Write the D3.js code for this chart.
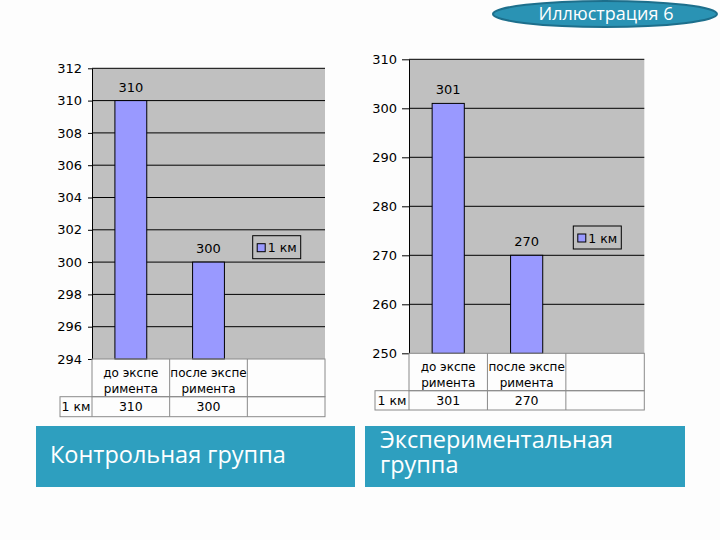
<!DOCTYPE html>
<html><head><meta charset="utf-8">
<script src="https://cdn.jsdelivr.net/npm/d3@7/dist/d3.min.js"></script>
<style>body{margin:0;background:#fdfdfd}svg{display:block}</style>
</head><body>
<svg id="c" width="720" height="540"></svg>
<script>
// ---- data ----
const categories = ["до экспе|римента", "после экспе|римента"];
const seriesName = "1 км";
const controlValues = [310, 300];
const experimentValues = [301, 270];
const controlTicks = [294, 296, 298, 300, 302, 304, 306, 308, 310, 312];
const experimentTicks = [250, 260, 270, 280, 290, 300, 310];
const panelTitles = ["Контрольная группа", "Экспериментальная|группа"];
const slideTitle = "Иллюстрация 6";

const svg = d3.select("#c");
const FONT = "DejaVu Sans, sans-serif";

// title oval
svg.append("ellipse").attr("cx", 605).attr("cy", 14).attr("rx", 112).attr("ry", 13)
  .attr("fill", "#2a93b4").attr("stroke", "#1d6f8c").attr("stroke-width", 2);
svg.append("text").attr("x", 606).attr("y", 19.5).attr("text-anchor", "middle")
  .attr("font-family", "Open Sans, sans-serif").attr("font-size", 18).attr("fill", "#fff")
  .text(slideTitle);

function drawChart(cfg) {
  const g = svg.append("g");
  const slots = [...categories, ""];
  const x = d3.scaleBand().domain(slots).range([cfg.x0, cfg.x1]);
  const y = d3.scaleLinear().domain(d3.extent(cfg.ticks)).range([cfg.yB, cfg.yT]);
  // plot background
  g.append("rect").attr("x", cfg.x0).attr("y", cfg.yT).attr("width", cfg.x1 - cfg.x0)
    .attr("height", cfg.yB - cfg.yT).attr("fill", "#c0c0c0");
  // gridlines
  g.selectAll(".grid").data(cfg.ticks.slice(1)).join("line")
    .attr("x1", cfg.x0).attr("x2", cfg.x1).attr("y1", d => y(d)).attr("y2", d => y(d))
    .attr("stroke", "#000").attr("stroke-width", 1);
  // bars
  const bw = x.bandwidth() * 0.41;
  g.selectAll(".bar").data(cfg.values).join("rect")
    .attr("x", (d, i) => x(slots[i]) + x.bandwidth() / 2 - bw / 2)
    .attr("y", d => y(d)).attr("width", bw).attr("height", d => cfg.yB - y(d))
    .attr("fill", "#9999ff").attr("stroke", "#000").attr("stroke-width", 1);
  // value labels
  g.selectAll(".vl").data(cfg.values).join("text")
    .attr("x", (d, i) => x(slots[i]) + x.bandwidth() / 2)
    .attr("y", d => y(d) - 9).attr("text-anchor", "middle")
    .attr("font-family", FONT).attr("font-size", 13).attr("fill", "#000").text(d => d);
  // y axis
  const ax = g.append("g").attr("transform", `translate(${cfg.x0},0)`)
    .call(d3.axisLeft(y).tickValues(cfg.ticks).tickSize(cfg.tick).tickPadding(cfg.pad).tickSizeOuter(0));
  ax.select(".domain").attr("stroke", "#000");
  ax.selectAll("text").attr("font-family", FONT).attr("font-size", 13).attr("fill", "#000");
  // data table
  const tg = g.append("g").attr("stroke", "#8a8a8a").attr("stroke-width", 1).attr("fill", "none");
  tg.append("rect").attr("x", cfg.x0).attr("y", cfg.yB).attr("width", cfg.x1 - cfg.x0).attr("height", cfg.r1 - cfg.yB);
  tg.append("rect").attr("x", cfg.tL).attr("y", cfg.r1).attr("width", cfg.x1 - cfg.tL).attr("height", cfg.r2 - cfg.r1);
  slots.slice(1).forEach(s => {
    tg.append("line").attr("x1", x(s)).attr("x2", x(s)).attr("y1", cfg.yB).attr("y2", cfg.r2);
  });
  tg.append("line").attr("x1", cfg.x0).attr("x2", cfg.x0).attr("y1", cfg.r1).attr("y2", cfg.r2);
  const rowH = cfg.r1 - cfg.yB;
  categories.forEach((c, i) => {
    const parts = c.split("|");
    const t = g.append("text").attr("text-anchor", "middle")
      .attr("font-family", FONT).attr("font-size", 12).attr("fill", "#000");
    parts.forEach((p, j) => {
      t.append("tspan").attr("x", x(c) + x.bandwidth() / 2)
        .attr("y", cfg.yB + rowH * (0.36 + j * 0.43) + 4).text(p);
    });
    g.append("text").attr("x", x(c) + x.bandwidth() / 2).attr("y", (cfg.r1 + cfg.r2) / 2 + 4.5)
      .attr("text-anchor", "middle").attr("font-family", FONT).attr("font-size", 12.5)
      .attr("fill", "#000").text(cfg.values[i]);
  });
  g.append("text").attr("x", (cfg.tL + cfg.x0) / 2).attr("y", (cfg.r1 + cfg.r2) / 2 + 4.5)
    .attr("text-anchor", "middle").attr("font-family", FONT).attr("font-size", 12.5)
    .attr("fill", "#000").text(seriesName);
  // legend
  const lg = g.append("g").attr("transform", `translate(${cfg.lx},${cfg.ly})`);
  lg.append("rect").attr("width", 48).attr("height", 23).attr("fill", "#c0c0c0")
    .attr("stroke", "#000").attr("stroke-width", 1);
  lg.append("rect").attr("x", 4.5).attr("y", 8).attr("width", 8).attr("height", 8)
    .attr("fill", "#9999ff").attr("stroke", "#000").attr("stroke-width", 1);
  lg.append("text").attr("x", 15).attr("y", 16.5).attr("font-family", FONT).attr("font-size", 12.5)
    .attr("fill", "#000").text(seriesName);
}

drawChart({ values: controlValues, ticks: controlTicks, x0: 92, x1: 325, yT: 68.3, yB: 359,
  tL: 60, r1: 396.7, r2: 416.7, lx: 252.7, ly: 235.7, tick: 4, pad: 6 });
drawChart({ values: experimentValues, ticks: experimentTicks, x0: 409, x1: 644.3, yT: 59.3, yB: 353.3,
  tL: 375, r1: 390.7, r2: 410, lx: 573.3, ly: 226, tick: 7, pad: 5 });

// panel title boxes
const boxes = [{ x: 36, w: 319 }, { x: 365, w: 320 }];
panelTitles.forEach((t, i) => {
  svg.append("rect").attr("x", boxes[i].x).attr("y", 426).attr("width", boxes[i].w).attr("height", 61)
    .attr("fill", "#2e9fbf");
  const lines = t.split("|");
  const txt = svg.append("text").attr("font-family", "Open Sans, sans-serif")
    .attr("font-size", 23.5).attr("fill", "#fff");
  lines.forEach((l, j) => {
    txt.append("tspan").attr("x", boxes[i].x + 14 + (i === 1 ? 1 : 0))
      .attr("y", lines.length === 1 ? 463 : 448 + j * 25).text(l);
  });
});
</script>
</body></html>
